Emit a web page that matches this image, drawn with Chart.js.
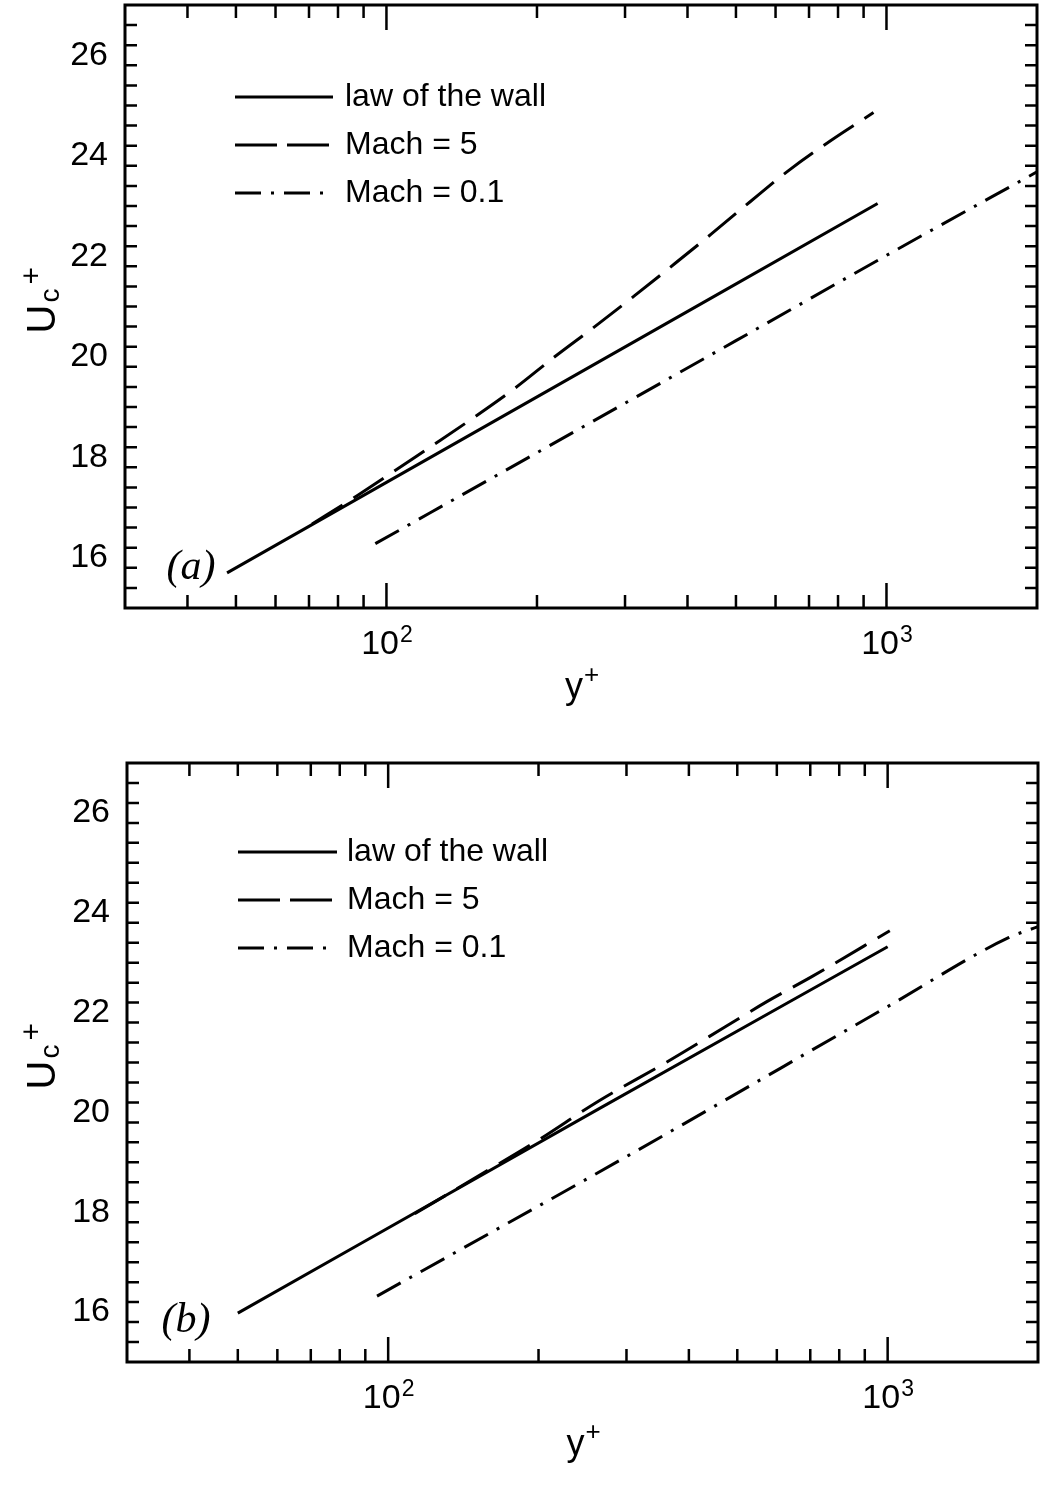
<!DOCTYPE html>
<html>
<head>
<meta charset="utf-8">
<script src="https://cdn.jsdelivr.net/npm/chart.js@4.4.1/dist/chart.umd.min.js"></script>
<style>
body { margin: 0; background: #fff; }
.panel { position: absolute; left: 0; width: 1042px; height: 745px; }
</style>
</head>
<body>
<div class="panel" style="top:0"><canvas id="chartA" width="1042" height="745"></canvas></div>
<div class="panel" style="top:745px"><canvas id="chartB" width="1042" height="745"></canvas></div>
<script>
var seriesNames = ['law of the wall', 'Mach = 5', 'Mach = 0.1'];

// panel (a)
var wallA_x = [48, 100, 960];
var wallA_y = [15.7, 17.5, 23.05];
var mach5A_x = [71, 87.5, 123, 149, 181, 217, 261, 314, 378, 446, 533, 636, 773, 942];
var mach5A_y = [16.67, 17.24, 18.22, 18.78, 19.38, 20.0, 20.6, 21.22, 21.86, 22.44, 23.08, 23.7, 24.3, 24.86];
var mach01A_x = [95, 205, 500, 1052, 2000];
var mach01A_y = [16.28, 18.15, 20.32, 22.14, 23.68];

// panel (b)
var wallB_x = [50, 264, 1000];
var wallB_y = [15.98, 20.07, 23.32];
var mach5B_x = [113, 150, 198, 264, 360, 474, 573, 705, 1010];
var mach5B_y = [17.97, 18.7, 19.42, 20.23, 21.0, 21.72, 22.22, 22.72, 23.64];
var mach01B_x = [95, 303, 1000, 1746, 2000];
var mach01B_y = [16.32, 19.14, 22.12, 23.5, 23.72];

// axes
var yTicks = [16, 18, 20, 22, 24, 26];
var xMajor = [100, 1000];
var xMajorExp = ['2', '3'];
var xMinor = [40, 50, 60, 70, 80, 90, 200, 300, 400, 500, 600, 700, 800, 900];

var plotDash = [[], [36, 13], [27, 10, 3, 10]];
var legendDash = [[], [42, 10], [26, 10, 3, 10]];
var sans = "'Liberation Sans', Arial, Helvetica, sans-serif";

function pts(xs, ys) {
    return xs.map(function (x, i) { return { x: x, y: ys[i] }; });
}

var decoPlugin = {
    id: 'deco',
    afterDraw: function (chart) {
        var o = chart.options.plugins.deco;
        var ctx = chart.ctx, a = chart.chartArea;
        var xs = chart.scales.x, ys = chart.scales.y;
        ctx.save();
        ctx.strokeStyle = '#000';
        ctx.fillStyle = '#000';
        ctx.lineWidth = 3;
        ctx.strokeRect(a.left, a.top, a.right - a.left, a.bottom - a.top);

        // inward ticks on all four sides
        ctx.lineWidth = 2.5;
        ctx.beginPath();
        for (var i = 1; i < 30; i++) {
            var v = Math.round((15 + i * 0.4) * 10) / 10;
            var len = yTicks.indexOf(v) >= 0 ? 25 : 12;
            var py = ys.getPixelForValue(v);
            ctx.moveTo(a.left, py); ctx.lineTo(a.left + len, py);
            ctx.moveTo(a.right, py); ctx.lineTo(a.right - len, py);
        }
        xMajor.concat(xMinor).forEach(function (v) {
            var len = xMajor.indexOf(v) >= 0 ? 25 : 13;
            var px = xs.getPixelForValue(v);
            ctx.moveTo(px, a.bottom); ctx.lineTo(px, a.bottom - len);
            ctx.moveTo(px, a.top); ctx.lineTo(px, a.top + len);
        });
        ctx.stroke();

        // x tick labels 10^n
        ctx.textBaseline = 'alphabetic';
        ctx.textAlign = 'left';
        xMajor.forEach(function (v, k) {
            var px = xs.getPixelForValue(v);
            ctx.font = '34px ' + sans;
            var w1 = ctx.measureText('10').width;
            ctx.font = '23px ' + sans;
            var w2 = ctx.measureText(xMajorExp[k]).width;
            var x0 = px - (w1 + w2) / 2;
            ctx.font = '34px ' + sans;
            ctx.fillText('10', x0, a.bottom + 46);
            ctx.font = '23px ' + sans;
            ctx.fillText(xMajorExp[k], x0 + w1 + 1, a.bottom + 34);
        });

        // x title y+
        ctx.font = '36px ' + sans;
        var wy = ctx.measureText('y').width;
        var cx = (a.left + a.right) / 2;
        ctx.fillText('y', cx - wy / 2 - 7, a.bottom + o.xTitleDy);
        ctx.font = '26px ' + sans;
        ctx.fillText('+', cx + wy / 2 - 6, a.bottom + o.xTitleDy - 15);

        // y title U_c^+
        ctx.save();
        ctx.translate(55, (a.top + a.bottom) / 2 + 27);
        ctx.rotate(-Math.PI / 2);
        ctx.font = '40px ' + sans;
        ctx.fillText('U', 0, 0);
        var wu = ctx.measureText('U').width;
        ctx.font = '28px ' + sans;
        ctx.fillText('c', wu + 2, 4);
        ctx.font = '30px ' + sans;
        ctx.fillText('+', wu + 20, -14);
        ctx.restore();

        // legend
        chart.data.datasets.forEach(function (ds, k) {
            var ly = a.top + o.legendRows[k];
            ctx.lineWidth = 3;
            ctx.setLineDash(legendDash[k]);
            ctx.beginPath();
            ctx.moveTo(a.left + o.legendX0, ly);
            ctx.lineTo(a.left + o.legendX1[k], ly);
            ctx.stroke();
            ctx.setLineDash([]);
            ctx.font = '32px ' + sans;
            ctx.textBaseline = 'middle';
            ctx.fillText(ds.label, a.left + o.legendTextX, ly);
        });

        // panel tag
        ctx.font = "italic 42px 'Liberation Serif', 'Times New Roman', serif";
        ctx.textAlign = 'center';
        ctx.textBaseline = 'middle';
        ctx.fillText(o.tag, a.left + o.tagDx, a.bottom - o.tagDy);
        ctx.restore();
    }
};

function makeChart(id, series, pad, deco) {
    var datasets = series.map(function (s, k) {
        return {
            label: seriesNames[k],
            data: s,
            showLine: true,
            borderColor: '#000',
            borderWidth: 3,
            borderDash: plotDash[k],
            pointRadius: 0,
            cubicInterpolationMode: 'monotone'
        };
    });
    return new Chart(id, {
        type: 'scatter',
        data: { datasets: datasets },
        options: {
            responsive: false,
            animation: false,
            layout: { padding: { top: pad.top, right: pad.right, left: 0, bottom: 0 } },
            plugins: { legend: { display: false }, tooltip: { enabled: false }, deco: deco },
            scales: {
                x: {
                    type: 'logarithmic', min: 30, max: 2000,
                    grid: { display: false, drawTicks: false },
                    border: { display: false },
                    ticks: { display: false },
                    afterFit: function (s) {
                        s.height = pad.xh;
                        s.paddingLeft = 0; s.paddingRight = 0;
                    }
                },
                y: {
                    min: 15, max: 27,
                    grid: { display: false, drawTicks: false },
                    border: { display: false },
                    afterBuildTicks: function (s) {
                        s.ticks = yTicks.map(function (v) { return { value: v }; });
                    },
                    ticks: { color: '#000', padding: 17, font: { family: sans, size: 34 } },
                    afterFit: function (s) {
                        s.width = pad.yw;
                        s.paddingTop = 0; s.paddingBottom = 0;
                    }
                }
            }
        },
        plugins: [decoPlugin]
    });
}

makeChart('chartA',
    [pts(wallA_x, wallA_y), pts(mach5A_x, mach5A_y), pts(mach01A_x, mach01A_y)],
    { top: 5, right: 5, xh: 137, yw: 125 },
    { tag: '(a)', tagDx: 66, tagDy: 40, xTitleDy: 90,
      legendRows: [92, 140, 188], legendX0: 110, legendX1: [208, 204, 200], legendTextX: 220 });

makeChart('chartB',
    [pts(wallB_x, wallB_y), pts(mach5B_x, mach5B_y), pts(mach01B_x, mach01B_y)],
    { top: 18, right: 4, xh: 128, yw: 127 },
    { tag: '(b)', tagDx: 59, tagDy: 41, xTitleDy: 93,
      legendRows: [89, 137, 185], legendX0: 111, legendX1: [210, 205, 201], legendTextX: 220 });
</script>
</body>
</html>
